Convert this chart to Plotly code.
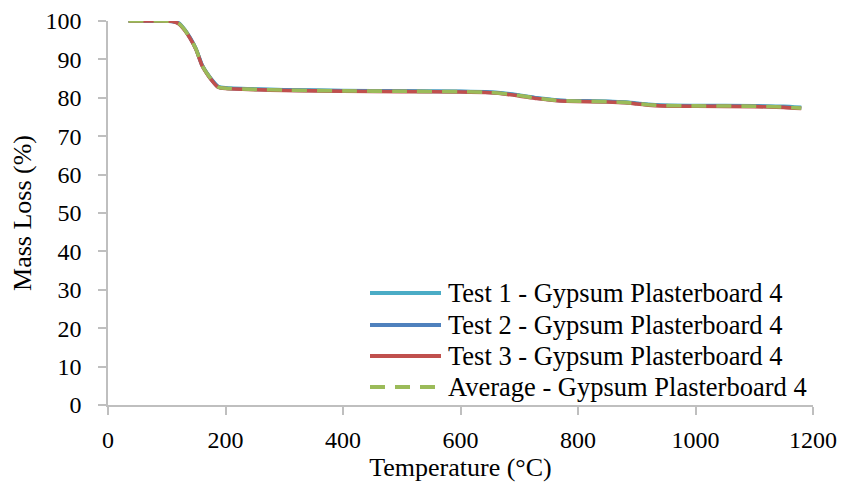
import plotly.graph_objects as go

# Thermogravimetric results, gypsum plasterboard 4
temperature = [35, 60, 90, 110, 120, 130, 140, 150, 160, 170, 180, 188, 200, 250,
               300, 400, 500, 600, 650, 680, 700, 730, 760, 780, 850, 880, 900,
               920, 940, 1000, 1100, 1150, 1180]

test1 = [100.0, 100.0, 100.0, 99.9, 99.5, 97.9, 95.6, 92.7, 88.6, 86.1, 84.1, 82.9,
         82.6, 82.3, 82.1, 81.9, 81.8, 81.7, 81.5, 81.1, 80.7, 80.0, 79.5, 79.3,
         79.1, 78.9, 78.6, 78.3, 78.1, 78.0, 77.9, 77.8, 77.5]
test2 = [100.0, 100.0, 100.0, 99.9, 99.4, 97.8, 95.5, 92.6, 88.5, 86.0, 84.0, 82.8,
         82.5, 82.2, 82.0, 81.8, 81.7, 81.6, 81.4, 81.0, 80.6, 79.9, 79.4, 79.2,
         79.0, 78.8, 78.5, 78.2, 78.0, 77.9, 77.8, 77.6, 77.3]
test3 = [100.0, 100.0, 100.0, 99.9, 99.3, 97.7, 95.4, 92.5, 88.4, 85.9, 83.9, 82.7,
         82.4, 82.1, 81.9, 81.7, 81.6, 81.5, 81.3, 80.9, 80.5, 79.8, 79.3, 79.1,
         78.9, 78.7, 78.4, 78.1, 77.9, 77.8, 77.7, 77.5, 77.2]
average = [100.0, 100.0, 100.0, 99.9, 99.4, 97.8, 95.5, 92.6, 88.5, 86.0, 84.0, 82.8,
           82.5, 82.2, 82.0, 81.8, 81.7, 81.6, 81.4, 81.0, 80.6, 79.9, 79.4, 79.2,
           79.0, 78.8, 78.5, 78.2, 78.0, 77.9, 77.8, 77.6, 77.3]

x_ticks = [0, 200, 400, 600, 800, 1000, 1200]
y_ticks = [0, 10, 20, 30, 40, 50, 60, 70, 80, 90, 100]

series_names = ["Test 1 - Gypsum Plasterboard 4", "Test 2 - Gypsum Plasterboard 4",
                "Test 3 - Gypsum Plasterboard 4", "Average - Gypsum Plasterboard 4"]
series_values = [test1, test2, test3, average]
series_colors = ["#4BACC6", "#4F81BD", "#C0504D", "#9BBB59"]
series_dashes = ["solid", "solid", "solid", "15px,10px"]

FONT = "Liberation Serif"
LINE_W = 3.6

fig = go.Figure()
for name, values, color, dash in zip(series_names, series_values, series_colors, series_dashes):
    fig.add_trace(go.Scatter(
        x=temperature, y=values, name=name, mode="lines", showlegend=False,
        line=dict(color=color, width=LINE_W, dash=dash, shape="spline", smoothing=0.5),
    ))

# Legend block in the lower right of the plot area (paper coordinates)
plot_left, plot_right, plot_top, plot_bottom = 108, 813, 21, 405


def px_to_paper_x(px):
    return (px - plot_left) / (plot_right - plot_left)


def px_to_paper_y(py):
    return (plot_bottom - py) / (plot_bottom - plot_top)


legend_rows = [293, 325, 356, 387]
for name, color, dash, row in zip(series_names, series_colors, series_dashes, legend_rows):
    fig.add_shape(type="line", xref="paper", yref="paper",
                  x0=px_to_paper_x(370), x1=px_to_paper_x(441),
                  y0=px_to_paper_y(row), y1=px_to_paper_y(row),
                  line=dict(color=color, width=4, dash=dash if dash != "solid" else None))
    fig.add_annotation(xref="paper", yref="paper", x=px_to_paper_x(446), y=px_to_paper_y(row),
                       xanchor="left", yanchor="middle", showarrow=False, text=name,
                       font=dict(family=FONT, size=26.5, color="#000000"))

axis_common = dict(
    showgrid=False, zeroline=False, showline=True, linecolor="#BFBFBF", linewidth=1.5,
    ticks="outside", tickcolor="#BFBFBF", ticklen=8, tickwidth=1.5,
    tickfont=dict(family=FONT, size=24, color="#000000"),
    automargin=False,
)

fig.update_layout(
    width=845, height=493,
    margin=dict(l=plot_left, r=845 - plot_right, t=plot_top, b=493 - plot_bottom),
    paper_bgcolor="white", plot_bgcolor="white",
    font=dict(family=FONT, color="#000000"),
    xaxis=dict(range=[0, 1200], tickvals=x_ticks, ticklabelstandoff=4,
               title=dict(text="Temperature (°C)", font=dict(family=FONT, size=26), standoff=6),
               **axis_common),
    yaxis=dict(range=[0, 100], tickvals=y_ticks, ticklabelstandoff=12,
               title=dict(text="Mass Loss (%)", font=dict(family=FONT, size=26), standoff=6),
               **axis_common),
    showlegend=False,
)

fig.write_html("out.html")
